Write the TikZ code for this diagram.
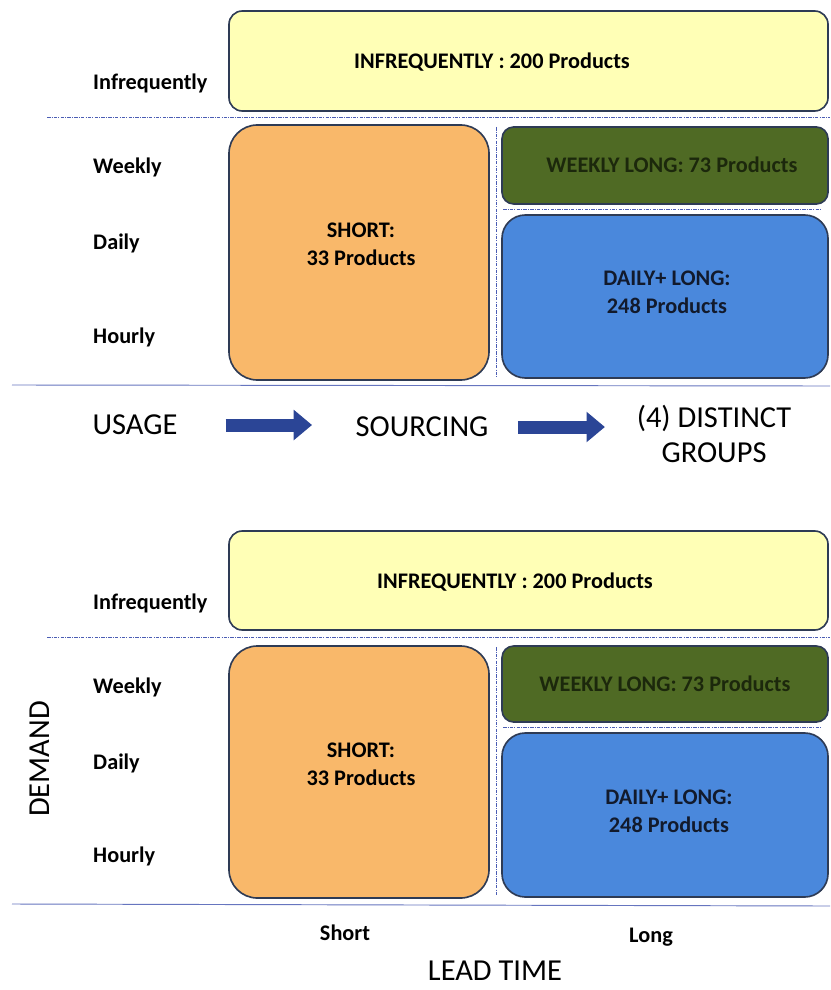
\documentclass[tikz,border=0pt]{standalone}
\usepackage{fontspec}
\setmainfont{Carlito}
\usepackage{tikz}
\usetikzlibrary{fit,arrows.meta}

\definecolor{boxline}{HTML}{2E3B55}
\definecolor{yellowfill}{HTML}{FFFFB6}
\definecolor{orangefill}{HTML}{F9B86A}
\definecolor{greenfill}{HTML}{4F6A24}
\definecolor{bluefill}{HTML}{4A88DC}
\definecolor{greentext}{HTML}{1C280C}
\definecolor{bluetext}{HTML}{121A2C}
\definecolor{gridblue}{HTML}{4B5DB4}
\definecolor{arrowblue}{HTML}{2B4596}

\begin{document}
\begin{tikzpicture}[x=0.03cm,y=-0.03cm,
  box/.style={draw=boxline,line width=1.4pt,inner sep=0pt},
  boxtext/.style={inner sep=0pt,align=center,font=\fontsize{19}{24}\selectfont\bfseries},
  rowlab/.style={anchor=west,inner sep=0pt,font=\fontsize{19}{23}\selectfont\bfseries},
  big/.style={inner sep=0pt,align=center,font=\fontsize{26}{30}\selectfont},
  grid/.style={draw=gridblue,line width=0.8pt,densely dashdotted},
  base/.style={draw=gridblue!85,line width=0.8pt},
  flow/.style={draw=arrowblue,line width=0.39cm,-{Triangle[length=0.55cm,width=0.88cm]}}]
\useasboundingbox (0,0) rectangle (830,990);

% usage panel
\node[box,fill=yellowfill,rounded corners=0.4cm,fit={(229,11) (828,111)}] (t-infq) {};
\node[box,fill=orangefill,rounded corners=0.85cm,fit={(229,125) (489,380)}] (t-short) {};
\node[box,fill=greenfill,rounded corners=0.35cm,fit={(502,127) (828,204)}] (t-weekly) {};
\node[box,fill=bluefill,rounded corners=0.7cm,fit={(502,215) (828,378)}] (t-daily) {};
\node[boxtext] (t-infqtxt) at (492,62) {INFREQUENTLY : 200 Products};
\node[boxtext] (t-shorttxt) at (361,244) {SHORT:\\33 Products};
\node[boxtext,text=greentext] (t-weeklytxt) at (672,165) {WEEKLY LONG: 73 Products};
\node[boxtext,text=bluetext] (t-dailytxt) at (667,292) {DAILY+ LONG:\\248 Products};
\node[rowlab] (t-l1) at (93,83) {Infrequently};
\node[rowlab] (t-l2) at (93,167) {Weekly};
\node[rowlab] (t-l3) at (93,243) {Daily};
\node[rowlab] (t-l4) at (93,337) {Hourly};
\draw[grid] (47,117) -- (830,117);
\draw[grid] (496,127) -- (496,378);
\draw[grid] (503,209) -- (822,209);
\draw[base] (12,385) -- (830,386);

\node[big] (usage) at (135,425) {USAGE};
\node[big] (sourcing) at (422,427) {SOURCING};
\node[big] (groups) at (714,434) {(4) DISTINCT\\GROUPS};
\draw[flow,shorten <=1.44cm,shorten >=1.3cm] (usage) -- (usage -| sourcing.west);
\draw[flow,shorten <=0.88cm,shorten >=0.95cm] (sourcing) -- (sourcing -| groups.west);

% demand panel
\node[box,fill=yellowfill,rounded corners=0.4cm,fit={(229,531) (828,630)}] (b-infq) {};
\node[box,fill=orangefill,rounded corners=0.85cm,fit={(229,646) (489,898)}] (b-short) {};
\node[box,fill=greenfill,rounded corners=0.35cm,fit={(502,646) (828,722)}] (b-weekly) {};
\node[box,fill=bluefill,rounded corners=0.7cm,fit={(502,733) (828,897)}] (b-daily) {};
\node[boxtext] (b-infqtxt) at (515,582) {INFREQUENTLY : 200 Products};
\node[boxtext] (b-shorttxt) at (361,764) {SHORT:\\33 Products};
\node[boxtext,text=greentext] (b-weeklytxt) at (665,684) {WEEKLY LONG: 73 Products};
\node[boxtext,text=bluetext] (b-dailytxt) at (669,811) {DAILY+ LONG:\\248 Products};
\node[rowlab] (b-l1) at (93,603) {Infrequently};
\node[rowlab] (b-l2) at (93,687) {Weekly};
\node[rowlab] (b-l3) at (93,763) {Daily};
\node[rowlab] (b-l4) at (93,856) {Hourly};
\draw[grid] (47,637) -- (830,637);
\draw[grid] (496,647) -- (496,895);
\draw[grid] (503,727) -- (822,727);
\draw[base] (12,904) -- (830,906);

\node[big,rotate=90] (demand) at (40,759) {DEMAND};
\node[rowlab,anchor=center] (short) at (345,933) {Short};
\node[rowlab,anchor=center] (long) at (651,937) {Long};
\node[big] (leadtime) at (495,971) {LEAD TIME};
\end{tikzpicture}
\end{document}
